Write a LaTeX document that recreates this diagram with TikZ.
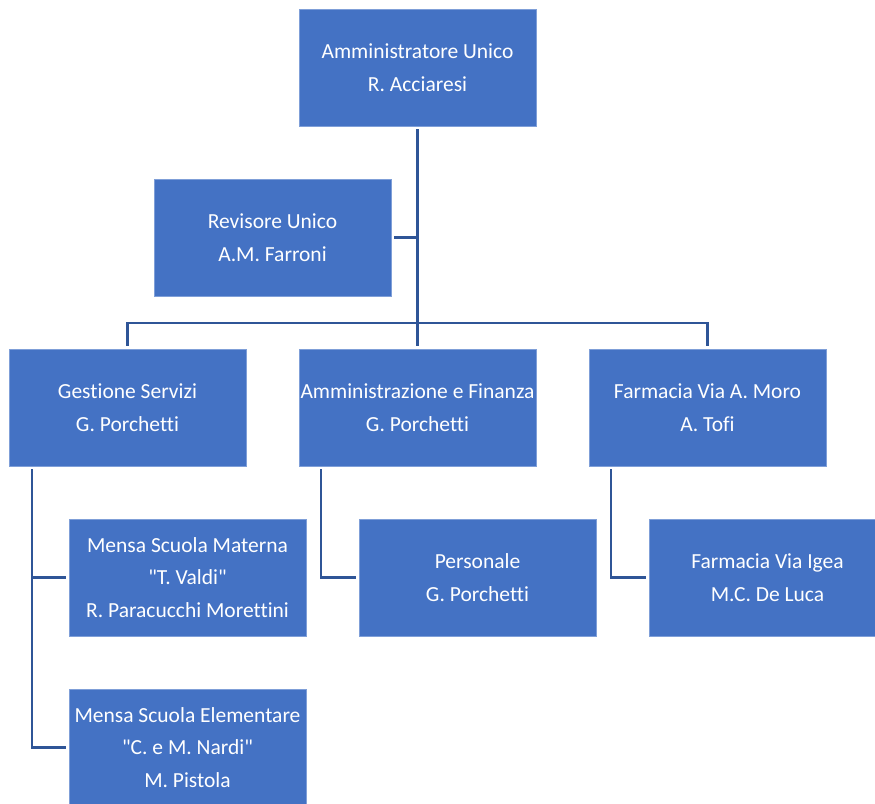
\documentclass[tikz,border=0pt]{standalone}
\usepackage{fontspec}
\setmainfont{Carlito}[Ligatures={NoCommon,TeXOff}]
\definecolor{boxblue}{HTML}{4472C4}
\definecolor{boxedge}{HTML}{7F9FD8}
\definecolor{linkblue}{HTML}{2F5597}
\tikzset{
  orgbox/.style={rectangle, fill=boxblue, draw=boxedge, line width=0.6pt,
    minimum width=237pt, minimum height=117pt, inner sep=0pt,
    text=white, align=center, font=\fontsize{21.5}{32.5}\selectfont},
  conn/.style={draw=linkblue, line width=2.4pt}
}
\begin{document}
\begin{tikzpicture}
\useasboundingbox (0pt,0pt) rectangle (875pt,-803pt);
\clip (0pt,0pt) rectangle (875pt,-803pt);
\node[orgbox] (AU) at (417.5pt,-67.5pt) {Amministratore Unico\\R. Acciaresi};
\node[orgbox] (Rev) at (272.5pt,-237.5pt) {Revisore Unico\\A.M. Farroni};
\node[orgbox] (GS) at (127.5pt,-407.5pt) {Gestione Servizi\\G. Porchetti};
\node[orgbox] (AF) at (417.5pt,-407.5pt) {Amministrazione e Finanza\\G. Porchetti};
\node[orgbox] (FM) at (707.5pt,-407.5pt) {Farmacia Via A. Moro\\A. Tofi};
\node[orgbox] (MM) at (187.5pt,-577.5pt) {Mensa Scuola Materna\\"T. Valdi"\\R. Paracucchi Morettini};
\node[orgbox] (Pers) at (477.5pt,-577.5pt) {Personale\\G. Porchetti};
\node[orgbox] (FI) at (767.5pt,-577.5pt) {Farmacia Via Igea\\M.C. De Luca};
\node[orgbox] (ME) at (187.5pt,-747.5pt) {Mensa Scuola Elementare\\"C. e M. Nardi"\\M. Pistola};
\coordinate (busy) at (0pt,-323pt);
% main trunk
\draw[conn] ([yshift=-3pt]AU.south) -- ([yshift=3pt]AF.north);
\draw[conn] ([xshift=3pt]Rev.east) -- (Rev.east -| AU.south);
\draw[conn] ([yshift=3pt]GS.north) -- (GS.north |- busy) -- (FM.north |- busy) -- ([yshift=3pt]FM.north);
% Gestione Servizi children
\draw[conn] ([xshift=23pt,yshift=-3pt]GS.south west) |- ([xshift=-3pt]ME.west);
\draw[conn] ([xshift=-3pt]MM.west) -- ++(-34pt,0pt);
% Amministrazione e Finanza child
\draw[conn] ([xshift=22pt,yshift=-3pt]AF.south west) |- ([xshift=-3pt]Pers.west);
% Farmacia Via A. Moro child
\draw[conn] ([xshift=22pt,yshift=-3pt]FM.south west) |- ([xshift=-3pt]FI.west);
\end{tikzpicture}
\end{document}
